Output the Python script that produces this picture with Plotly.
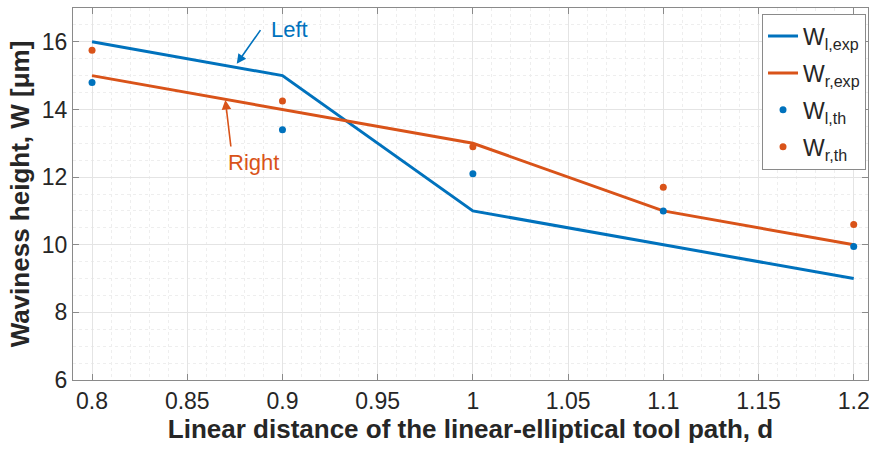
import plotly.graph_objects as go

# Linear distance of the tool path
d = [0.8, 0.9, 1.0, 1.1, 1.2]

# Experimental waviness heights (lines)
w_left_exp = [16, 15, 11, 10, 9]
w_right_exp = [15, 14, 13, 11, 10]

# Theoretical waviness heights (markers)
w_left_th = [14.8, 13.4, 12.1, 11.0, 9.95]
w_right_th = [15.75, 14.25, 12.9, 11.7, 10.6]

x_ticks = [0.8, 0.85, 0.9, 0.95, 1.0, 1.05, 1.1, 1.15, 1.2]
x_tick_text = ["0.8", "0.85", "0.9", "0.95", "1", "1.05", "1.1", "1.15", "1.2"]
y_ticks = [6, 8, 10, 12, 14, 16]

BLUE = "#0072BD"
ORANGE = "#D95319"
FONT = "Liberation Sans, Arial, sans-serif"
TEXT = "#262626"

fig = go.Figure()
fig.add_trace(go.Scatter(x=d, y=w_left_exp, mode="lines", line=dict(color=BLUE, width=3),
                         name="W<sub>l,exp</sub>", legendgroup="a"))
fig.add_trace(go.Scatter(x=d, y=w_right_exp, mode="lines", line=dict(color=ORANGE, width=3),
                         name="W<sub>r,exp</sub>", legendgroup="b"))
fig.add_trace(go.Scatter(x=d, y=w_left_th, mode="markers", marker=dict(color=BLUE, size=7),
                         name="W<sub>l,th</sub>", legendgroup="c"))
fig.add_trace(go.Scatter(x=d, y=w_right_th, mode="markers", marker=dict(color=ORANGE, size=7),
                         name="W<sub>r,th</sub>", legendgroup="d"))

# Arrow annotations for the two sides
fig.add_annotation(x=0.876, y=15.35, ax=0.889, ay=16.39, xref="x", yref="y", axref="x", ayref="y",
                   showarrow=True, arrowhead=2, arrowsize=1.2, arrowwidth=1.6, arrowcolor=BLUE,
                   text="")
fig.add_annotation(x=0.9037, y=16.36, text="Left", showarrow=False,
                   font=dict(family=FONT, size=22, color=BLUE))
fig.add_annotation(x=0.870, y=14.28, ax=0.873, ay=12.86, xref="x", yref="y", axref="x", ayref="y",
                   showarrow=True, arrowhead=2, arrowsize=1.2, arrowwidth=1.6, arrowcolor=ORANGE,
                   text="")
fig.add_annotation(x=0.885, y=12.42, text="Right", showarrow=False,
                   font=dict(family=FONT, size=22, color=ORANGE))

axis_common = dict(
    showline=True, linecolor="#8a8a8a", linewidth=1.2, mirror="ticks",
    ticks="inside", ticklen=6, tickcolor="#8a8a8a",
    showgrid=True, gridcolor="#e4e4e4", gridwidth=1,
    tickfont=dict(family=FONT, size=23, color=TEXT),
    zeroline=False,
)

fig.update_layout(
    width=874, height=451,
    margin=dict(l=73, r=4, t=8, b=71),
    plot_bgcolor="white", paper_bgcolor="white",
    font=dict(family=FONT, color=TEXT),
    showlegend=True,
    legend=dict(x=0.9975, y=0.985, xanchor="right", yanchor="top",
                bgcolor="white", bordercolor="#8a8a8a", borderwidth=1,
                font=dict(family=FONT, size=23, color=TEXT),
                itemwidth=30, tracegroupgap=4),
    xaxis=dict(range=[0.79, 1.2075], tickvals=x_ticks, ticktext=x_tick_text,
               minor=dict(dtick=0.01, showgrid=True, gridcolor="#eeeeee", griddash="dot", ticks=""),
               title=dict(text="<b>Linear distance of the linear-elliptical tool path, d</b>",
                          font=dict(family=FONT, size=26, color=TEXT), standoff=4),
               **axis_common),
    yaxis=dict(range=[6, 17], tickvals=y_ticks,
               minor=dict(dtick=0.5, showgrid=True, gridcolor="#eeeeee", griddash="dot", ticks=""),
               title=dict(text="<b>Waviness height, W [μm]</b>",
                          font=dict(family=FONT, size=26, color=TEXT), standoff=4),
               **axis_common),
)

fig.write_html("out.html")
